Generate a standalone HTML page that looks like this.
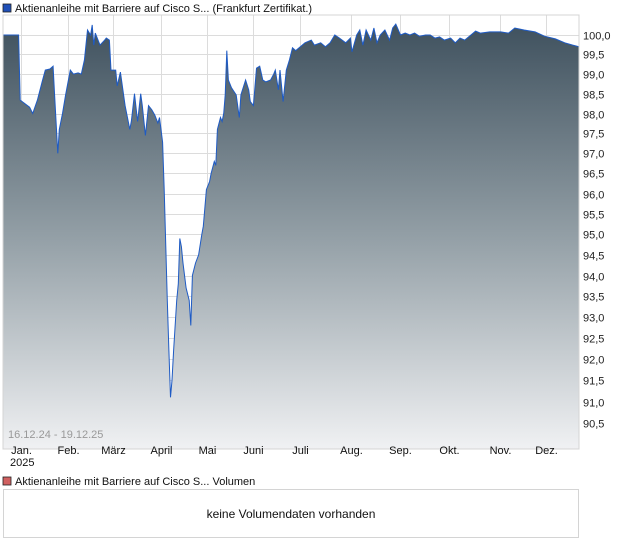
<!DOCTYPE html>
<html><head><meta charset="utf-8"><style>
body{margin:0;background:#fff;font-family:"Liberation Sans",sans-serif;}
svg text{font-family:"Liberation Sans",sans-serif;}
</style></head><body>
<svg id="chart" width="620" height="546" xmlns="http://www.w3.org/2000/svg">
<defs><linearGradient id="fillg" x1="0" y1="0" x2="0" y2="1">
<stop offset="0" stop-color="#3f515e"/><stop offset="0.5" stop-color="#939fa6"/><stop offset="1" stop-color="#f0f1f3"/></linearGradient></defs>
<rect x="3" y="4" width="8" height="8" fill="#2050b8" stroke="#222" stroke-width="0.8"/>
<text x="15" y="12" font-size="11" fill="#111">Aktienanleihe mit Barriere auf Cisco S... (Frankfurt Zertifikat.)</text>
<g id="grid"></g>
<g id="series"></g>
<rect x="3" y="15" width="576" height="434" fill="none" stroke="#d4d4d4"/>
<text x="8" y="438" font-size="11" fill="#999">16.12.24 - 19.12.25</text>
<g id="yticks"></g>
<g id="xticks"></g>
<text x="10" y="466" font-size="11" fill="#111">2025</text>
<rect x="3" y="477" width="8" height="8" fill="#d06060" stroke="#222" stroke-width="0.8"/>
<text x="15" y="485" font-size="11" fill="#111">Aktienanleihe mit Barriere auf Cisco S... Volumen</text>
<rect x="3.5" y="489.5" width="575" height="48" fill="#fff" stroke="#d4d4d4"/>
<text x="291" y="518" font-size="12" fill="#111" text-anchor="middle">keine Volumendaten vorhanden</text>
</svg>
<script>
const days=[0,10,11,17,19,22,25,27,30,32,33,35,36,38,40,43,45,48,50,52,54,56,57,58,59,62,65,66,68,69,72,73,75,78,81,82,84,86,88,89,91,93,95,97,99,100,102,103,104,105,106,107,108,109,111,112,113,114,115,117,119,120,121,123,125,127,128,130,132,133,135,136,137,139,140,141,142,143,144,146,149,151,152,155,157,158,160,162,164,166,168,171,173,174,176,177,179,181,183,185,187,190,193,197,199,203,206,209,212,215,219,222,223,226,228,230,232,235,237,239,241,244,247,249,251,254,257,260,263,266,270,273,276,279,282,286,289,292,295,298,302,305,311,318,323,327,333,340,346,353,359,364,368];
const values=[100.0,100.0,98.34,98.16,98.0,98.34,98.8,99.1,99.13,99.2,98.47,97.0,97.6,98.0,98.47,99.1,99.0,99.03,99.0,99.36,100.13,100.0,100.26,99.74,100.05,99.74,99.87,99.92,99.87,99.1,99.1,98.7,99.05,98.2,97.6,97.8,98.5,97.8,98.5,98.2,97.45,98.2,98.1,97.96,97.76,97.9,97.28,96.1,94.7,93.4,92.2,91.1,91.5,92.2,93.4,93.8,94.9,94.7,94.3,93.7,93.4,92.8,94.0,94.3,94.5,95.0,95.2,96.1,96.3,96.5,96.8,96.7,97.6,97.9,97.8,98.0,98.47,99.6,98.85,98.65,98.47,97.9,98.47,98.85,98.6,98.3,98.2,99.15,99.2,98.85,98.8,98.85,99.0,99.1,98.6,99.1,98.3,99.1,99.36,99.67,99.6,99.7,99.8,99.87,99.74,99.8,99.7,99.8,100.0,99.92,99.8,99.92,99.57,100.0,100.13,99.74,100.13,99.87,100.18,99.8,100.0,100.13,99.87,100.18,100.28,100.0,100.05,100.0,100.05,99.97,100.0,100.0,99.92,99.95,99.87,99.92,99.8,99.92,99.87,99.97,100.1,100.05,100.08,100.08,100.05,100.18,100.13,100.08,99.97,99.9,99.8,99.74,99.7];
const yTicks=[100.0,99.5,99.0,98.5,98.0,97.5,97.0,96.5,96.0,95.5,95.0,94.5,94.0,93.5,93.0,92.5,92.0,91.5,91.0,90.5];
const monthLabels=["Jan.","Feb.","März","April","Mai","Juni","Juli","Aug.","Sep.","Okt.","Nov.","Dez."];
const monthDays=[11.5,41.5,70.3,101,130.3,159.7,189.8,222.4,253.7,285,317.6,347];
const NS="http://www.w3.org/2000/svg";
const X0=3,PX=1.565,Y100=35,K=3887,BOTTOM=449;
function xs(d){return X0+d*PX;}
function ys(v){return Y100+K*Math.log(100/v);}
function mk(t,a){const e=document.createElementNS(NS,t);for(const k in a)e.setAttribute(k,a[k]);return e;}
const grid=document.getElementById('grid'),yt=document.getElementById('yticks'),xt=document.getElementById('xticks'),ser=document.getElementById('series');
yTicks.forEach(v=>{
 const y=Math.round(ys(v))+0.5;
 const l=mk('line',{x1:3,x2:579,y1:y,y2:y,stroke:'#dcdcdc'});
 
 
 grid.appendChild(l);
 const t=mk('text',{x:583,y:y+4,'font-size':11,fill:'#222'});
 t.textContent=v.toFixed(1).replace('.',',');
 
 
 yt.appendChild(t);
});
monthDays.forEach((d,i)=>{
 const x=Math.round(xs(d))+0.5;
 const l=mk('line',{x1:x,x2:x,y1:15,y2:449,stroke:'#dcdcdc'});
 
 
 grid.appendChild(l);
 const t=mk('text',{x:x,y:454,'font-size':11,fill:'#111','text-anchor':'middle'});
 t.textContent=monthLabels[i];
 
 
 xt.appendChild(t);
});
let pts=days.map((d,i)=>xs(d).toFixed(1)+','+ys(values[i]).toFixed(1));
const area=mk('path',{d:'M'+xs(days[0])+','+BOTTOM+' L'+pts.join(' L')+' L'+xs(days[days.length-1])+','+BOTTOM+' Z',fill:'url(#fillg)'});


ser.appendChild(area);
const line=mk('path',{d:'M'+pts.join(' L'),fill:'none',stroke:'#1f5bc4','stroke-width':1});


ser.appendChild(line);
</script>
</body></html>
